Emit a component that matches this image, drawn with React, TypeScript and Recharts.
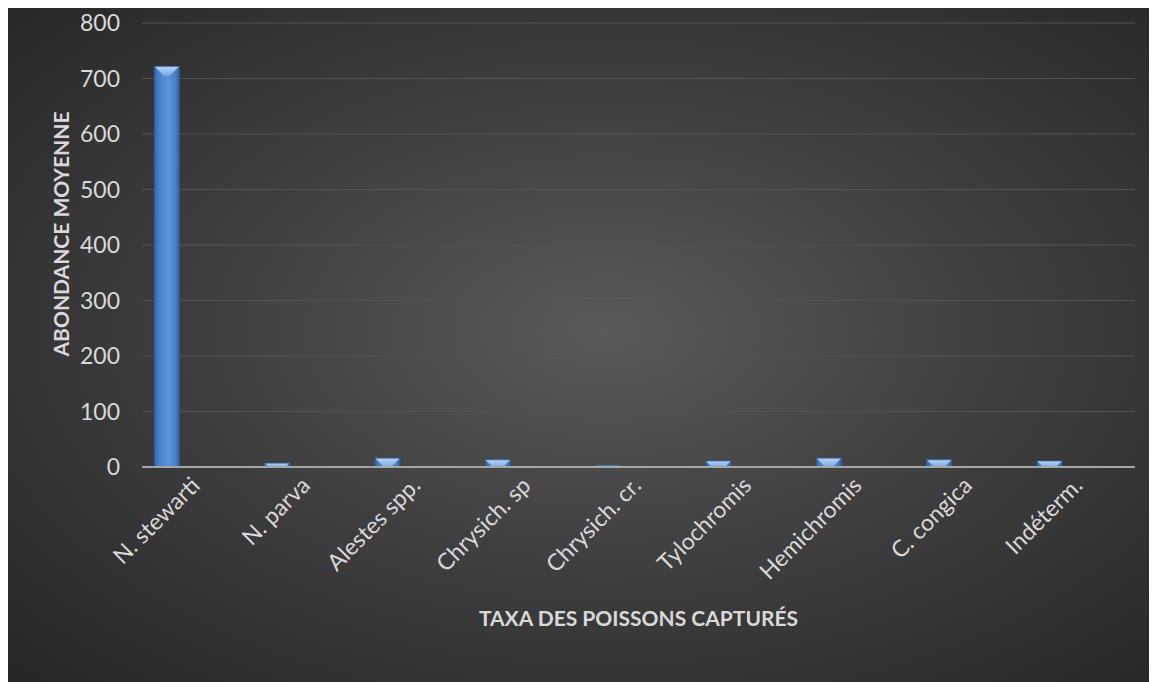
import { BarChart, Bar, XAxis, YAxis, CartesianGrid, ReferenceLine } from "recharts";

const taxa = [
  "N. stewarti",
  "N. parva",
  "Alestes spp.",
  "Chrysich. sp",
  "Chrysich. cr.",
  "Tylochromis",
  "Hemichromis",
  "C. congica",
  "Indéterm.",
];
const abondance = [722, 7, 16, 13, 3, 11, 16, 13, 11];
const yTicks = [0, 100, 200, 300, 400, 500, 600, 700, 800];

const data = taxa.map((t, i) => ({ taxon: t, abondance: abondance[i] }));

const W = 1149;
const H = 675;
const MARGIN = { top: 16, right: 22, left: 0, bottom: 0 };
const Y_W = 134;
const X_H = 215;
const BAR_W = 25;
const BAND = (W - MARGIN.right - Y_W) / taxa.length;
// Excel leaves room for empty series: bar sits near the left of its slot
const SHIFT = -(BAND / 2 - 12 - BAR_W / 2);
const FONT = "Lato, 'Open Sans', sans-serif";
const TXT = "#d9d9d9";

function BevelBar(props: any) {
  const { x, y, width, height } = props;
  if (!height || height <= 0) return null;
  const bx = x + SHIFT;
  const b = Math.min(width * 0.38, height);
  return (
    <g>
      <rect x={bx} y={y} width={width} height={height} fill="url(#barBody)" />
      <polygon
        points={`${bx},${y} ${bx + width},${y} ${bx + width - b},${y + b} ${bx + b},${y + b}`}
        fill="url(#barTop)"
      />
      <rect x={bx} y={y} width={width} height={height} fill="none" stroke="#2f5d96" strokeWidth={0.8} />
    </g>
  );
}

function TaxonTick({ x, y, payload }: any) {
  const tx = x + 4;
  const ty = y + 12;
  return (
    <text
      x={tx}
      y={ty}
      textAnchor="end"
      fill={TXT}
      fontSize={23}
      fontFamily={FONT}
      transform={`rotate(-45, ${tx}, ${ty})`}
    >
      {payload.value}
    </text>
  );
}

function YTitle({ viewBox }: any) {
  const cx = viewBox.x + 61;
  const cy = viewBox.y + viewBox.height / 2 - 11;
  return (
    <text
      x={cx}
      y={cy}
      textAnchor="middle"
      fill={TXT}
      fontSize={21}
      fontWeight={700}
      fontFamily={FONT}
      transform={`rotate(-90, ${cx}, ${cy})`}
    >
      ABONDANCE MOYENNE
    </text>
  );
}

export default function App() {
  return (
    <div
      style={{
        width: W,
        height: H,
        marginTop: -1,
        background: "radial-gradient(ellipse at 52% 48%, #5a5a5a 0%, #404040 45%, #262626 100%)",
        position: "relative",
        fontFamily: FONT,
      }}
    >
      <BarChart width={W} height={H} data={data} margin={MARGIN} barSize={BAR_W}>
        <defs>
          <linearGradient id="barBody" x1="0" y1="0" x2="1" y2="0">
            <stop offset="0%" stopColor="#3567a8" />
            <stop offset="20%" stopColor="#4a80c8" />
            <stop offset="55%" stopColor="#5d93d8" />
            <stop offset="85%" stopColor="#4a80c8" />
            <stop offset="100%" stopColor="#2f5e9c" />
          </linearGradient>
          <linearGradient id="barTop" x1="0" y1="0" x2="0" y2="1">
            <stop offset="0%" stopColor="#b6d2f5" />
            <stop offset="100%" stopColor="#7ea9e4" />
          </linearGradient>
        </defs>
        <CartesianGrid vertical={false} stroke="#525252" strokeWidth={1.2} />
        <XAxis
          dataKey="taxon"
          height={X_H}
          interval={0}
          axisLine={false}
          tickLine={false}
          tick={<TaxonTick />}
          label={{
            value: "TAXA DES POISSONS CAPTURÉS",
            position: "insideTop",
            offset: 144,
            fill: TXT,
            fontSize: 21,
            fontWeight: 700,
            fontFamily: FONT,
          }}
        />
        <YAxis
          width={Y_W}
          domain={[0, 800]}
          ticks={yTicks}
          axisLine={false}
          tickLine={false}
          tickSize={0}
          tickMargin={22}
          tick={{ fill: TXT, fontSize: 23, fontFamily: FONT }}
          label={<YTitle />}
        />
        <ReferenceLine y={0} stroke="#a6a6a6" strokeWidth={2} />
        <Bar dataKey="abondance" shape={<BevelBar />} isAnimationActive={false} />
      </BarChart>
    </div>
  );
}
